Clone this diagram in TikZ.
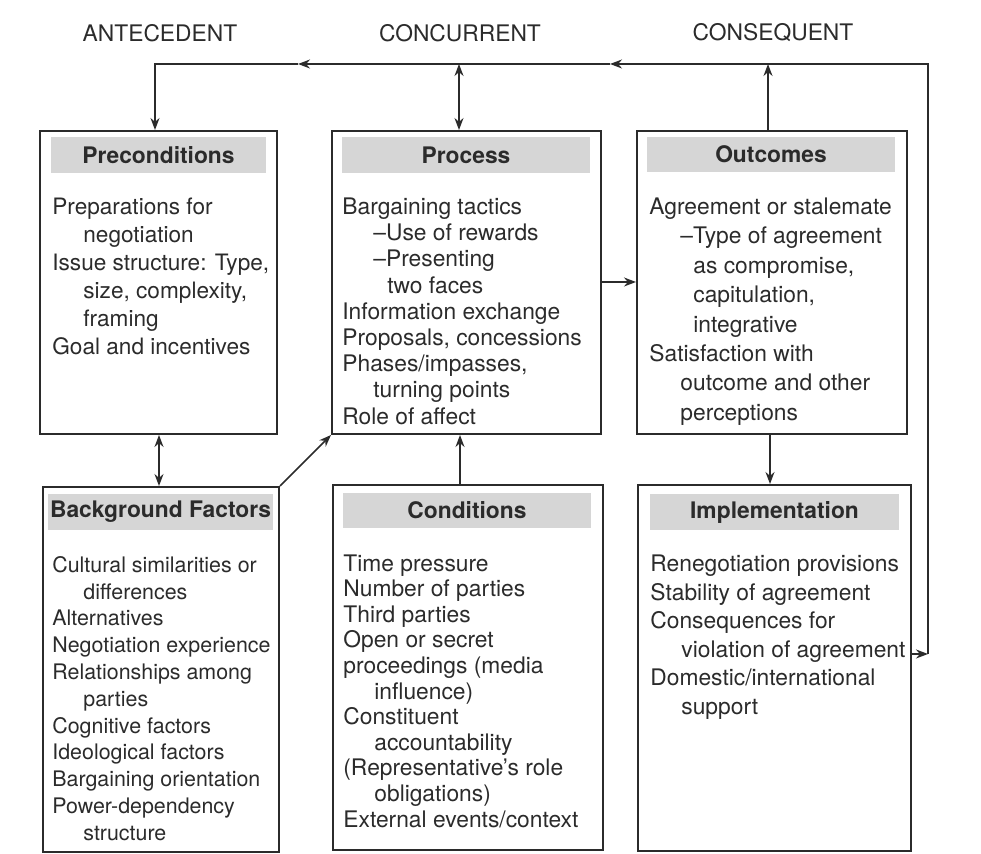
\documentclass[tikz,border=0pt]{standalone}
\usepackage{fontspec}
\setmainfont{TeX Gyre Heros}
\usetikzlibrary{arrows.meta,fit,positioning}
\definecolor{ink}{HTML}{2B2B2B}
\definecolor{band}{HTML}{D6D6D6}
\tikzset{
  box/.style={draw=ink, line width=1pt, inner sep=0pt},
  head/.style={fill=band, inner sep=0pt},
  headtext/.style={text=ink, inner sep=0pt, font=\fontsize{11.4}{13}\selectfont\bfseries},
  body/.style 2 args={anchor=north west, align=left, inner sep=0pt, text=ink,
    font=\fontsize{#1}{#2}\selectfont},
  link/.style={draw=ink, line width=0.75pt, -{Stealth[length=6pt,width=4.5pt]}},
  twoway/.style={link, {Stealth[length=6pt,width=4.5pt]}-{Stealth[length=6pt,width=4.5pt]}},
}
\newcommand{\ind}{\hspace*{15.5pt}}
\newcommand{\indd}{\hspace*{22.5pt}}
\begin{document}
\begin{tikzpicture}[x=0.5pt,y=-0.5pt,font=\fontsize{11.4}{13}\selectfont]
\useasboundingbox (0,0) rectangle (981,854);
% column titles
\node[text=ink] (antecedent) at (160,33) {ANTECEDENT};
\node[text=ink] (concurrent) at (460,33) {CONCURRENT};
\node[text=ink] (consequent) at (773,33) {CONSEQUENT};
% upper row
\node[box, fit={(40,131) (277,434)}] (precond) {};
\node[head, fit={(51,137) (266,173)}] (precondH) {};
\node[headtext] (precondL) at (precondH) {Preconditions};
\node[body={11.3pt}{14pt}] (precondT) at (52,197.5) {Preparations for\\
  \ind negotiation\\
  Issue structure: Type,\\
  \ind size, complexity,\\
  \ind framing\\
  Goal and incentives};
\node[box, fit={(332,131) (601,434)}] (process) {};
\node[head, fit={(342,137) (590,173)}] (processH) {};
\node[headtext] (processL) at (processH) {Process};
\node[body={11.4pt}{13.1pt}] (processT) at (342,197.5) {Bargaining tactics\\
  \ind –Use of rewards\\
  \ind –Presenting\\
  \indd two faces\\
  Information exchange\\
  Proposals, concessions\\
  Phases/impasses,\\
  \ind turning points\\
  Role of affect};
\node[box, fit={(637,131) (907,434)}] (outcomes) {};
\node[head, fit={(647,137) (895,172)}] (outcomesH) {};
\node[headtext] (outcomesL) at (outcomesH) {Outcomes};
\node[body={11.4pt}{14.7pt}] (outcomesT) at (649,197.5) {Agreement or stalemate\\
  \ind –Type of agreement\\
  \hspace*{22pt}as compromise,\\
  \hspace*{22pt}capitulation,\\
  \hspace*{22pt}integrative\\
  Satisfaction with\\
  \ind outcome and other\\
  \ind perceptions};
% lower row
\node[box, fit={(43,487) (279,852)}] (background) {};
\node[head, fit={(48,494) (273,530)}] (backgroundH) {};
\node[headtext] (backgroundL) at (backgroundH) {Background Factors};
\node[body={10.7pt}{13.4pt}] (backgroundT) at (52,556) {Cultural similarities or\\
  \ind differences\\
  Alternatives\\
  Negotiation experience\\
  Relationships among\\
  \ind parties\\
  Cognitive factors\\
  Ideological factors\\
  Bargaining orientation\\
  Power-dependency\\
  \ind structure};
\node[box, fit={(333,485) (603,850)}] (conditions) {};
\node[head, fit={(343,493) (591,528)}] (conditionsH) {};
\node[headtext] (conditionsL) at (conditionsH) {Conditions};
\node[body={11.4pt}{12.8pt}] (conditionsT) at (343,554) {Time pressure\\
  Number of parties\\
  Third parties\\
  Open or secret\\
  proceedings (media\\
  \ind influence)\\
  Constituent\\
  \ind accountability\\
  (Representative’s role\\
  \ind obligations)\\
  External events/context};
\node[box, fit={(638,485) (911,851)}] (impl) {};
\node[head, fit={(650,494) (899,530)}] (implH) {};
\node[headtext] (implL) at (implH) {Implementation};
\node[body={11.4pt}{14.3pt}] (implT) at (650,554.5) {Renegotiation provisions\\
  Stability of agreement\\
  Consequences for\\
  \ind violation of agreement\\
  Domestic/international\\
  \ind support};
% feedback loop along the top
\coordinate (rightC) at (928,654);
\coordinate (topR) at (928,64);
\coordinate (tipB) at (610,64);
\coordinate (tipA) at (298,64);
\coordinate (topL) at (155,64);
\coordinate (pTop) at (459,64);
\coordinate (oTop) at (768,64);
\draw[link] (rightC -| impl.east) -- (rightC);
\draw[link] (rightC) -- (topR) -- (tipB);
\draw[link] (tipB) -- (tipA);
\draw[link] (tipA) -- (topL) -- (topL |- precond.north);
\draw[twoway] (pTop) -- (pTop |- process.north);
\draw[link] (oTop |- outcomes.north) -- (oTop);
% links between boxes
\coordinate (midR) at (620,282);
\coordinate (cUp) at (460,460);
\draw[link] (midR -| process.east) -- (midR -| outcomes.west);
\draw[link] (outcomes.south -| 770,0) -- (impl.north -| 770,0);
\draw[twoway] (precond.south -| 159,0) -- (background.north -| 159,0);
\draw[link] (background.north east) -- (process.south west);
\draw[link] (cUp |- conditions.north) -- (cUp |- process.south);
\end{tikzpicture}
\end{document}
